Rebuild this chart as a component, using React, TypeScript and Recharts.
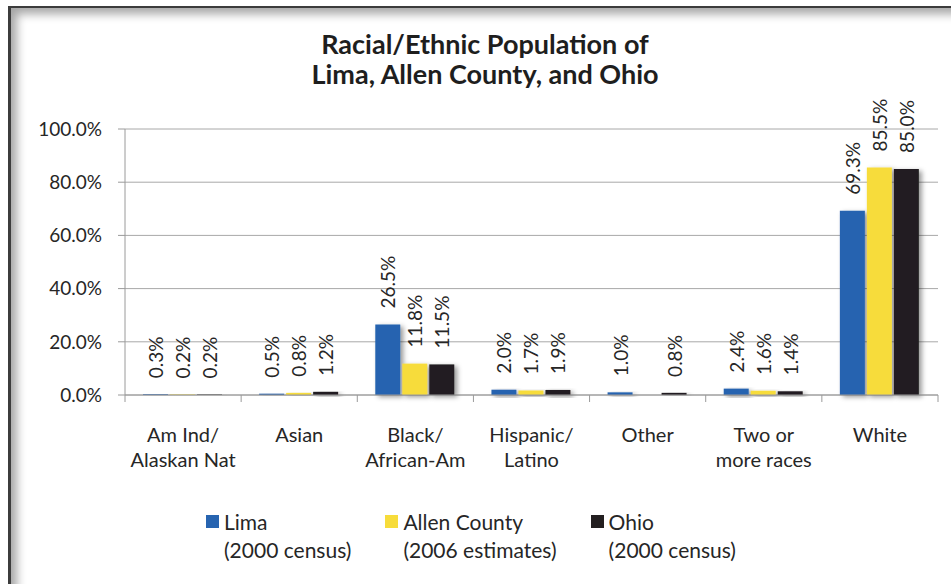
import React from 'react'
import { BarChart, Bar, XAxis, YAxis, CartesianGrid, LabelList, Rectangle } from 'recharts'

const CATEGORIES = [
  'Am Ind/\nAlaskan Nat',
  'Asian',
  'Black/\nAfrican-Am',
  'Hispanic/\nLatino',
  'Other',
  'Two or\nmore races',
  'White',
]

const LIMA = [0.3, 0.5, 26.5, 2.0, 1.0, 2.4, 69.3]
const ALLEN_COUNTY = [0.2, 0.8, 11.8, 1.7, null, 1.6, 85.5]
const OHIO = [0.2, 1.2, 11.5, 1.9, 0.8, 1.4, 85.0]

const Y_TICKS = [0, 20, 40, 60, 80, 100]

const SERIES_NAMES = ['Lima', 'Allen County', 'Ohio']
const SERIES_NOTES = ['(2000 census)', '(2006 estimates)', '(2000 census)']
const SERIES_KEYS = ['lima', 'allen', 'ohio']
const COLORS = ['#2764B0', '#F7DC3A', '#231F20']

const W = 951
const H = 584
const MARGIN = { top: 129, right: 13, bottom: 109, left: 0 }
const Y_AXIS_W = 125
const FONT = 'Lato, "Open Sans", sans-serif'
const TEXT = '#262626'
const AXIS = '#9a9a9a'

const data = CATEGORIES.map((name, i) => ({
  name,
  lima: LIMA[i],
  allen: ALLEN_COUNTY[i],
  ohio: OHIO[i],
}))

const BAND = (W - MARGIN.left - Y_AXIS_W - MARGIN.right) / CATEGORIES.length

function CategoryTick(props: any) {
  const { x, y, payload, index } = props
  const lines = String(payload.value).split('\n')
  const left = x - BAND / 2
  return (
    <g>
      <line x1={left} y1={y} x2={left} y2={y + 7} stroke={AXIS} />
      {index === CATEGORIES.length - 1 && (
        <line x1={x + BAND / 2} y1={y} x2={x + BAND / 2} y2={y + 7} stroke={AXIS} />
      )}
      <text x={x} y={y + 47} textAnchor="middle" fontSize={20} fontFamily={FONT} fill={TEXT}>
        {lines.map((l, i) => (
          <tspan key={i} x={x} dy={i === 0 ? 0 : 25}>
            {l}
          </tspan>
        ))}
      </text>
    </g>
  )
}

function ValueLabel(props: any) {
  const { x, y, width, value } = props
  if (value === null || value === undefined) return null
  const cx = x + width / 2
  const ty = y - 16
  return (
    <text
      x={cx}
      y={ty}
      transform={`rotate(-90 ${cx} ${ty})`}
      textAnchor="start"
      dominantBaseline="central"
      fontSize={19}
      fontFamily={FONT}
      fill={TEXT}
    >
      {Number(value).toFixed(1)}%
    </text>
  )
}

const ShadowBar = (props: any) => <Rectangle {...props} filter="url(#barShadow)" />

export default function App() {
  return (
    <div style={{ position: 'absolute', left: 0, top: 0, width: W, height: H, overflow: 'hidden', background: '#fff' }}>
      <svg width={0} height={0} style={{ position: 'absolute' }}>
        <defs>
          <filter id="barShadow" x="-20%" y="-20%" width="160%" height="160%">
            <feDropShadow dx={3} dy={2} stdDeviation={2.5} floodColor="#000" floodOpacity={0.4} />
          </filter>
        </defs>
      </svg>
      {/* frame with inner shadow, only top and left edges show */}
      <div
        style={{
          position: 'absolute',
          left: 8,
          top: 6,
          width: 1000,
          height: 700,
          borderTop: '2px solid #3c3c3c',
          borderLeft: '3px solid #3c3c3c',
          boxShadow: 'inset 6px 6px 10px rgba(0,0,0,0.35)',
        }}
      />
      <div
        style={{
          position: 'absolute',
          left: 0,
          top: 29,
          width: 970,
          textAlign: 'center',
          fontFamily: FONT,
          fontWeight: 700,
          fontSize: 27,
          lineHeight: '30px',
          color: '#1e1e1e',
        }}
      >
        Racial/Ethnic Population of
        <br />
        Lima, Allen County, and Ohio
      </div>
      <div style={{ position: 'absolute', left: 0, top: 0 }}>
        <BarChart width={W} height={H} data={data} margin={MARGIN} barCategoryGap={18} barGap={2}>
          <CartesianGrid vertical={false} stroke="#a8a8a8" />
          <XAxis
            dataKey="name"
            interval={0}
            height={80}
            axisLine={{ stroke: AXIS }}
            tickLine={false}
            tickSize={0}
            tickMargin={0}
            tick={<CategoryTick />}
          />
          <YAxis
            width={Y_AXIS_W}
            domain={[0, 100]}
            ticks={Y_TICKS}
            interval={0}
            tickFormatter={(v: number) => v.toFixed(1) + '%'}
            axisLine={{ stroke: AXIS }}
            tickLine={{ stroke: AXIS }}
            tickSize={7}
            tickMargin={16}
            tick={{ fontSize: 19, fontFamily: FONT, fill: TEXT }}
          />
          {SERIES_KEYS.map((k, i) => (
            <Bar key={k} dataKey={k} name={SERIES_NAMES[i]} fill={COLORS[i]} shape={ShadowBar} isAnimationActive={false}>
              <LabelList dataKey={k} content={<ValueLabel />} />
            </Bar>
          ))}
        </BarChart>
      </div>
      <div
        style={{
          position: 'absolute',
          left: 206,
          top: 508,
          display: 'flex',
          gap: 34,
          fontFamily: FONT,
          fontSize: 21,
          lineHeight: '28px',
          color: TEXT,
        }}
      >
        {SERIES_NAMES.map((n, i) => (
          <div key={n} style={{ display: 'flex', alignItems: 'flex-start' }}>
            <div style={{ width: 13, height: 13, background: COLORS[i], marginTop: 7, marginRight: 5 }} />
            <div>
              <div>{n}</div>
              <div>{SERIES_NOTES[i]}</div>
            </div>
          </div>
        ))}
      </div>
    </div>
  )
}
